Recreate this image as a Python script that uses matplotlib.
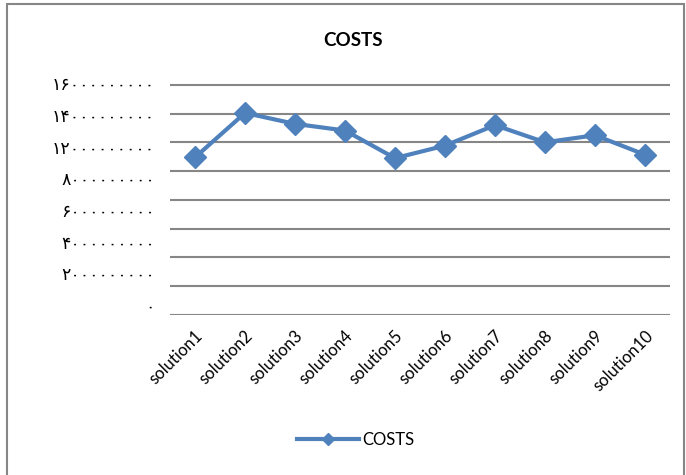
import numpy as np
import matplotlib
matplotlib.use('Agg')
import matplotlib.pyplot as plt
from matplotlib.patches import Rectangle
from matplotlib.lines import Line2D

# 数据
solutions = ['solution1', 'solution2', 'solution3', 'solution4', 'solution5',
             'solution6', 'solution7', 'solution8', 'solution9', 'solution10']
costs = [10.95e9, 14.04e9, 13.28e9, 12.82e9, 10.90e9,
         11.77e9, 13.19e9, 12.00e9, 12.49e9, 11.14e9]
grid_values = [0, 2e9, 4e9, 6e9, 8e9, 10e9, 12e9, 14e9, 16e9]
# 原图的y轴标签（波斯数字，缺少"10"）
ytick_labels = ['۱۶۰۰۰۰۰۰۰۰۰', '۱۴۰۰۰۰۰۰۰۰۰', '۱۲۰۰۰۰۰۰۰۰۰', '۸۰۰۰۰۰۰۰۰۰',
                '۶۰۰۰۰۰۰۰۰۰', '۴۰۰۰۰۰۰۰۰۰', '۲۰۰۰۰۰۰۰۰۰', '۰']

blue = '#4F81BD'
gray = '#868686'
plt.rcParams['font.family'] = ['Lato', 'DejaVu Sans']

fig = plt.figure(figsize=(6.86, 4.75), dpi=100)
ax = fig.add_axes([170 / 686, 1 - 315 / 475, 500 / 686, (315 - 83.3) / 475])

x = np.arange(len(solutions))
ax.plot(x, costs, color=blue, lw=3, marker='D', markersize=11,
        markerfacecolor=blue, markeredgecolor=blue, zorder=3)

ax.set_xlim(-0.5, len(solutions) - 0.5)
ax.set_ylim(0, 16e9)

# 网格线
for g in grid_values:
    ax.axhline(g, color=gray, lw=1.5, zorder=1)

# y轴标签位置与网格不对齐（照原图）
ax.set_yticks(np.linspace(16.1e9, 0.7e9, len(ytick_labels)))
ax.set_yticklabels(ytick_labels, family=['DejaVu Sans'], fontsize=12.5)
ax.tick_params(axis='y', length=0, pad=11)

ax.set_xticks(x)
ax.set_xticklabels(solutions, rotation=45, ha='right', rotation_mode='anchor', fontsize=12)
ax.tick_params(axis='x', length=0, pad=9)

for s in ax.spines.values():
    s.set_visible(False)

fig.text(353 / 686, 1 - 40 / 475, 'COSTS', ha='center', va='center',
         fontsize=13.5, fontweight='bold')

handle = Line2D([], [], color=blue, lw=3, marker='D', markersize=6)
fig.legend([handle], ['COSTS'], loc='center', bbox_to_anchor=(356 / 686, 1 - 440 / 475),
           frameon=False, handlelength=3.7, handletextpad=0.2, fontsize=12)

# 外框
fig.patches.append(Rectangle((7 / 686, -0.02), 677 / 686, 1.02 - 4 / 475,
                             transform=fig.transFigure, fill=False,
                             edgecolor=gray, lw=1.5))

fig.savefig('out.png', dpi=100)
